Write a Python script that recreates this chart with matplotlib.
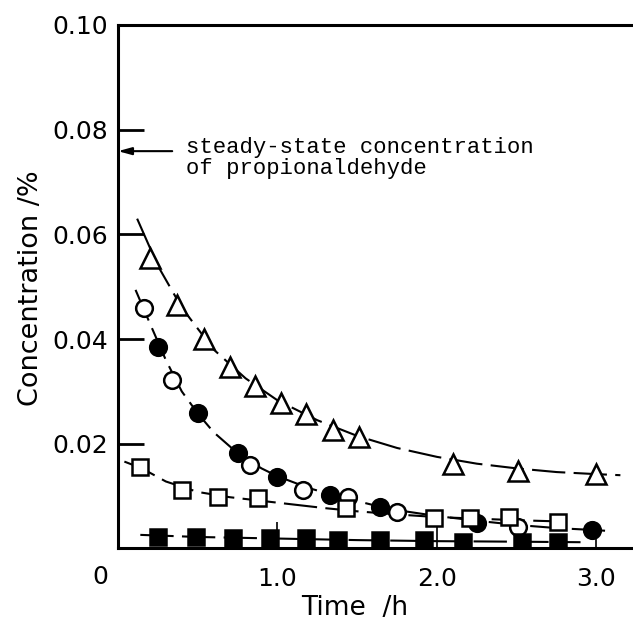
import matplotlib
matplotlib.use('Agg')

import matplotlib.pyplot as plt

# measured points (time in h, concentration in %)
tri_t = [0.20, 0.37, 0.54, 0.70, 0.86, 1.02, 1.18, 1.35, 1.51, 2.10, 2.51, 3.00]
tri_c = [0.0555, 0.0465, 0.0401, 0.0347, 0.0311, 0.0278, 0.0257, 0.0227, 0.0213, 0.0162, 0.0148, 0.0143]

ocirc_t = [0.16, 0.34, 0.83, 1.16, 1.44, 1.75, 2.51]
ocirc_c = [0.0460, 0.0322, 0.0160, 0.0112, 0.0098, 0.0070, 0.0041]

fcirc_t = [0.25, 0.50, 0.75, 1.00, 1.33, 1.64, 2.25, 2.97]
fcirc_c = [0.0384, 0.0259, 0.0183, 0.0137, 0.0102, 0.0080, 0.0049, 0.0036]

osq_t = [0.14, 0.40, 0.63, 0.88, 1.43, 1.98, 2.21, 2.45, 2.76]
osq_c = [0.0156, 0.0112, 0.0099, 0.0097, 0.0078, 0.0058, 0.0058, 0.0060, 0.0051]

fsq_t = [0.25, 0.49, 0.72, 0.95, 1.18, 1.38, 1.64, 1.92, 2.16, 2.53, 2.76]
fsq_c = [0.0022, 0.0022, 0.0020, 0.0020, 0.0020, 0.0017, 0.0017, 0.0016, 0.0013, 0.0013, 0.0013]

# fitted curves
tri_fit_t = [0.12, 0.25, 0.40, 0.60, 0.80, 1.00, 1.25, 1.50, 1.75, 2.00, 2.25, 2.50, 2.75, 3.00, 3.15]
tri_fit_c = [0.0630, 0.0540, 0.0460, 0.0380, 0.0325, 0.0283, 0.0245, 0.0215, 0.0192, 0.0175, 0.0162, 0.0153, 0.0146, 0.0142, 0.0140]

circ_fit_t = [0.11, 0.20, 0.30, 0.40, 0.50, 0.60, 0.75, 0.90, 1.00, 1.20, 1.40, 1.60, 1.80, 2.00, 2.25, 2.50, 2.75, 3.00, 3.10]
circ_fit_c = [0.0494, 0.0430, 0.0360, 0.0300, 0.0258, 0.0222, 0.0182, 0.0153, 0.0138, 0.0115, 0.0098, 0.0083, 0.0071, 0.0062, 0.0053, 0.0045, 0.0039, 0.0035, 0.0033]

sq_fit_t = [0.04, 0.15, 0.30, 0.50, 0.70, 0.90, 1.10, 1.30, 1.50, 1.75, 2.00, 2.25, 2.50, 2.85]
sq_fit_c = [0.0166, 0.0153, 0.0128, 0.0108, 0.0098, 0.0091, 0.0084, 0.0077, 0.0071, 0.0065, 0.0060, 0.0057, 0.0054, 0.0051]

fsq_fit_t = [0.14, 0.50, 1.00, 1.50, 2.00, 2.50, 2.90]
fsq_fit_c = [0.0026, 0.0022, 0.0019, 0.0016, 0.0014, 0.0013, 0.0012]

steady_state = 0.0759

yticks = [0.02, 0.04, 0.06, 0.08, 0.10]
ytick_labels = ['0.02', '0.04', '0.06', '0.08', '0.10']
xticks = [1.0, 2.0, 3.0]
xtick_labels = ['1.0', '2.0', '3.0']

plt.rcParams['font.family'] = 'DejaVu Sans'

fig = plt.figure(figsize=(6.33, 6.23), dpi=100)
ax = fig.add_axes([0.1864, 0.1196, 0.8136, 0.8403])

line_kw = dict(color='black', lw=1.5, dashes=(16, 4), zorder=1.5)
ax.plot(tri_fit_t, tri_fit_c, **line_kw)
ax.plot(circ_fit_t, circ_fit_c, **line_kw)
ax.plot(sq_fit_t, sq_fit_c, **line_kw)
ax.plot(fsq_fit_t, fsq_fit_c, **line_kw)

mk = dict(linestyle='none', markeredgecolor='black', markeredgewidth=1.8, zorder=2)
ax.plot(tri_t, tri_c, marker='^', ms=14, markerfacecolor='white', **mk)
ax.plot(ocirc_t, ocirc_c, marker='o', ms=12, markerfacecolor='white', **mk)
ax.plot(fcirc_t, fcirc_c, marker='o', ms=12, markerfacecolor='black', **mk)
ax.plot(osq_t, osq_c, marker='s', ms=11, markerfacecolor='white', **mk)
ax.plot(fsq_t, fsq_c, marker='s', ms=11, markerfacecolor='black', **mk)

ax.set_xlim(0, 3.229)
ax.set_ylim(0, 0.10)

ax.spines['right'].set_visible(False)
for s in ['left', 'bottom', 'top']:
    ax.spines[s].set_linewidth(2.2)

ax.set_yticks(yticks)
ax.set_yticklabels(ytick_labels)
ax.set_xticks(xticks)
ax.set_xticklabels(xtick_labels)
ax.tick_params(axis='y', direction='in', length=19, width=2.0, pad=7, labelsize=18)
ax.tick_params(axis='x', direction='in', length=19, width=1.2, pad=13, labelsize=18)

# the shared origin label
ax.text(-0.113, -0.00545, '0', ha='center', va='center', fontsize=18, clip_on=False)

fig.text(355 / 633, 1 - 608 / 623, 'Time  /h', ha='center', va='center', fontsize=19)
fig.text(31 / 633, 1 - 288 / 623, 'Concentration /%', ha='center', va='center',
         rotation=90, fontsize=19.5)

ax.annotate('', xy=(0.0, steady_state), xytext=(0.34, steady_state),
            arrowprops=dict(arrowstyle='-|>,head_length=0.8,head_width=0.22',
                            color='black', lw=1.5, shrinkA=0, shrinkB=0))
ax.text(0.426, 0.0755, 'steady-state concentration', family='Liberation Mono',
        fontsize=16, ha='left', va='baseline')
ax.text(0.426, 0.0715, 'of propionaldehyde', family='Liberation Mono',
        fontsize=16, ha='left', va='baseline')

fig.savefig('out.png', dpi=100)
